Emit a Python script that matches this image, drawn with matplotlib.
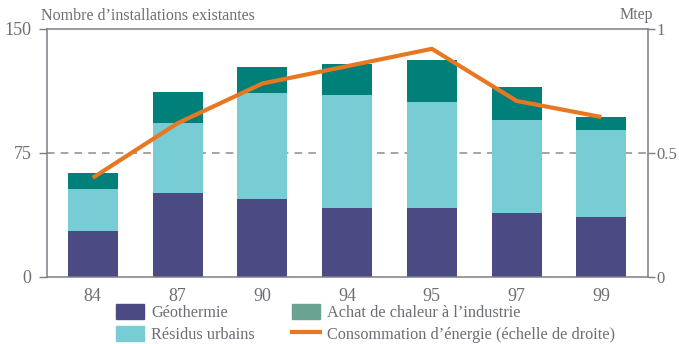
import matplotlib.pyplot as plt
from matplotlib.patches import Patch
from matplotlib.lines import Line2D
import numpy as np

plt.rcParams['font.family'] = ['Liberation Serif', 'DejaVu Serif']

years = ["84", "87", "90", "94", "95", "97", "99"]
geothermie = [28, 51, 47, 42, 42, 39, 36]
residus = [25, 42, 64, 68, 64, 56, 53]
achat = [10, 19, 16, 19, 25, 20, 8]
conso = [0.40, 0.62, 0.78, 0.85, 0.92, 0.71, 0.645]

c_geo = '#4b4a82'
c_res = '#77cdd3'
c_ach = '#008078'
c_ach_leg = '#6aa392'
c_line = '#e87722'
c_txt = '#6b6e73'
c_axis = '#7a7f85'

fig = plt.figure(figsize=(6.79, 3.44), dpi=100)
ax = fig.add_axes([0.0692, 0.1948, 0.8852, 0.7209])

ind = np.arange(len(years))
w = 0.59
b2 = np.array(geothermie) + np.array(residus)
ax.bar(ind, geothermie, w, color=c_geo, zorder=2)
ax.bar(ind, residus, w, bottom=geothermie, color=c_res, zorder=2)
ax.bar(ind, achat, w, bottom=b2, color=c_ach, zorder=2)

# reference line at 75 (= 0.5 Mtep on the right)
ax.axhline(75, color='#8c8c8c', lw=1.1, ls=(0, (5, 4)), zorder=1)

ax.set_xlim(-0.54, 6.55)
ax.set_ylim(0, 150)
ax.set_yticks([0, 75, 150])
ax.set_xticks(ind)
ax.set_xticklabels(years)
ax.tick_params(axis='x', length=0, pad=8, labelsize=13, labelcolor=c_txt)
ax.tick_params(axis='y', length=6, width=1, color=c_axis, pad=5, labelsize=13, labelcolor=c_txt)
for s in ax.spines.values():
    s.set_color(c_axis)
    s.set_linewidth(1.1)

ax2 = ax.twinx()
ax2.plot(ind, conso, color=c_line, lw=3, solid_capstyle='butt', zorder=3)
ax2.set_ylim(0, 1)
ax2.set_yticks([0, 0.5, 1])
ax2.set_yticklabels(['0', '0.5', '1'])
ax2.tick_params(axis='y', length=5, width=1, color=c_axis, pad=0.8, labelsize=12, labelcolor=c_txt)
for s in ax2.spines.values():
    s.set_visible(False)

fig.text(0.061, 0.953, "Nombre d\u2019installations existantes", fontsize=11.5, color=c_txt, va='center')
fig.text(0.962, 0.955, "Mtep", fontsize=11.5, color=c_txt, va='center', ha='right')

handles = [
    Patch(color=c_geo),
    Patch(color=c_res),
    Patch(color=c_ach_leg),
    Line2D([0], [0], color=c_line, lw=3),
]
labels = ["G\u00e9othermie", "R\u00e9sidus urbains",
          "Achat de chaleur \u00e0 l\u2019industrie",
          "Consommation d\u2019\u00e9nergie (\u00e9chelle de droite)"]
leg = fig.legend(handles, labels, ncol=2, loc='lower left',
                 bbox_to_anchor=(0.1708, 0.004), frameon=False,
                 borderpad=0, borderaxespad=0,
                 fontsize=11.7, handlelength=1.7, handleheight=1.05,
                 handletextpad=0.45, columnspacing=2.3, labelspacing=0.3)
for t in leg.get_texts():
    t.set_color(c_txt)

fig.savefig('out.png', dpi=100)
